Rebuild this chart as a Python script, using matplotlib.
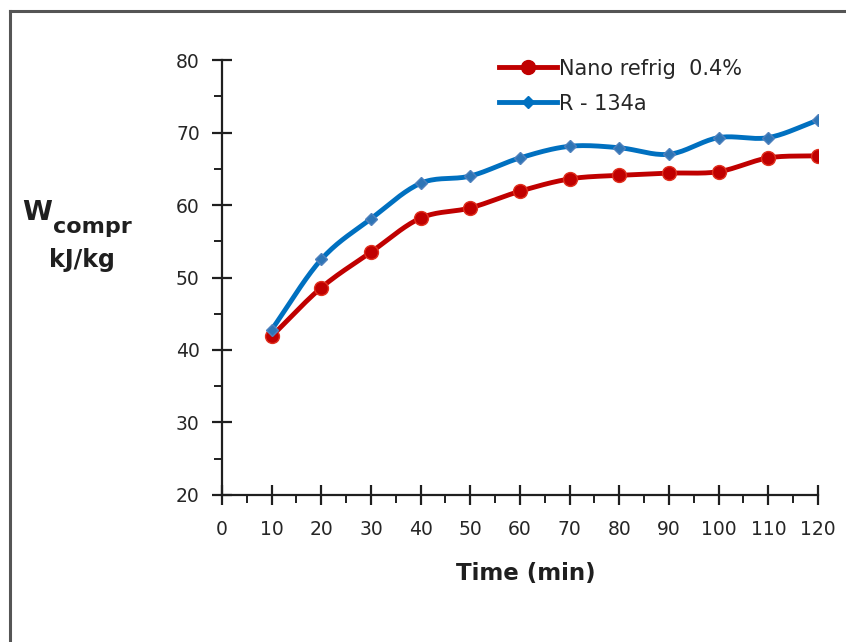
import numpy as np
import matplotlib
matplotlib.use('Agg')
from matplotlib import pyplot as plt
from matplotlib.lines import Line2D
from matplotlib.ticker import MultipleLocator


# compressor work vs time, read from the test runs
time_min = [10, 20, 30, 40, 50, 60, 70, 80, 90, 100, 110, 120]
w_nano = [41.9, 48.6, 53.5, 58.2, 59.6, 61.9, 63.6, 64.1, 64.4, 64.6, 66.5, 66.8]
w_r134a = [42.8, 52.5, 58.1, 63.0, 64.0, 66.5, 68.1, 67.9, 67.0, 69.3, 69.3, 71.7]

labels = ['Nano refrig  0.4%', 'R - 134a']
colors = ['#C00000', '#0070C0']

plt.rcParams['font.family'] = ['DejaVu Sans']
INK = '#1f1f1f'


def smooth(x, y, n=20):
    # catmull-rom style curve through the points, like a spreadsheet "smoothed line"
    x = np.asarray(x, float)
    y = np.asarray(y, float)
    px = np.concatenate([[2 * x[0] - x[1]], x, [2 * x[-1] - x[-2]]])
    py = np.concatenate([[2 * y[0] - y[1]], y, [2 * y[-1] - y[-2]]])
    t = np.linspace(0, 1, n)[:, None]
    out_x, out_y = [], []
    for i in range(1, len(px) - 2):
        for p, out in ((px, out_x), (py, out_y)):
            p0, p1, p2, p3 = p[i - 1], p[i], p[i + 1], p[i + 2]
            seg = 0.5 * (2 * p1 + (-p0 + p2) * t
                         + (2 * p0 - 5 * p1 + 4 * p2 - p3) * t ** 2
                         + (-p0 + 3 * p1 - 3 * p2 + p3) * t ** 3)
            out.append(seg.ravel())
    return np.concatenate(out_x), np.concatenate(out_y)


fig = plt.figure(figsize=(8.46, 6.42), dpi=100)
ax = fig.add_axes([0.2624, 0.229, 0.7045, 0.6775])

# outer frame, only the top and left edges fall inside the image
fx, fy = 10 / 846, 1 - 11 / 642
fig.lines.append(Line2D([fx, 1.01], [fy, fy], transform=fig.transFigure,
                        color='#555555', lw=2.2))
fig.lines.append(Line2D([fx, fx], [fy, -0.01], transform=fig.transFigure,
                        color='#555555', lw=2.2))

sx, sy = smooth(time_min, w_nano)
ax.plot(sx, sy, color=colors[0], lw=3.5, solid_capstyle='round', zorder=3)
ax.plot(time_min, w_nano, 'o', color=colors[0], ms=10, mec='#E0301E', mew=1, zorder=4)

sx, sy = smooth(time_min, w_r134a)
ax.plot(sx, sy, color=colors[1], lw=3.5, solid_capstyle='round', zorder=3)
ax.plot(time_min, w_r134a, 'D', color='#2E75B6', ms=6.5, mec='#4F81BD', mew=1, zorder=4)

# legend built from proxy lines
h1, = ax.plot([], [], color=colors[0], lw=3.5, marker='o', ms=10)
h2, = ax.plot([], [], color=colors[1], lw=3.5, marker='D', ms=6.5)
leg = ax.legend([h1, h2], labels, loc='upper left', bbox_to_anchor=(0.447, 1.027),
                frameon=False, fontsize=15, handlelength=2.8, handletextpad=0.1,
                labelspacing=0.72, borderpad=0, numpoints=1)
for t in leg.get_texts():
    t.set_color('#262626')

ax.set_xlim(0, 120)
ax.set_ylim(20, 80)
ax.xaxis.set_major_locator(MultipleLocator(10))
ax.xaxis.set_minor_locator(MultipleLocator(5))
ax.yaxis.set_major_locator(MultipleLocator(10))
ax.yaxis.set_minor_locator(MultipleLocator(5))

for s in ('top', 'right'):
    ax.spines[s].set_visible(False)
for s in ('left', 'bottom'):
    ax.spines[s].set_linewidth(1.6)
    ax.spines[s].set_color(INK)

ax.tick_params(which='major', direction='inout', length=14, width=1.6, color=INK,
               labelsize=13.5, labelcolor='#262626')
ax.tick_params(which='minor', direction='out', length=6, width=1.4, color=INK)
ax.tick_params(axis='x', which='major', pad=11)
ax.tick_params(axis='y', which='major', pad=9)

# x label
fig.text(526 / 846, 1 - 580 / 642, 'Time (min)', fontsize=16.5, fontweight='bold',
         color=INK, ha='center', va='baseline')

# y label: W with subscript, then units
fig.text(22 / 846, 1 - 220 / 642, 'W', fontsize=19.5, fontweight='bold', color=INK,
         va='baseline', ha='left')
fig.text(53 / 846, 1 - 233 / 642, 'compr', fontsize=16, fontweight='bold', color=INK,
         va='baseline', ha='left')
fig.text(82 / 846, 1 - 267 / 642, 'kJ/kg', fontsize=17, fontweight='bold', color=INK,
         va='baseline', ha='center')

fig.savefig('out.png', dpi=100)
